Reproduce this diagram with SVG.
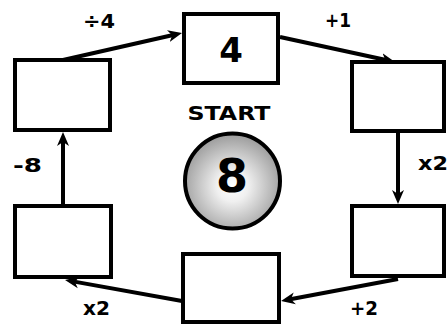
<svg xmlns="http://www.w3.org/2000/svg" width="447" height="326" viewBox="0 0 447 326">
<style>
.box{fill:#fff;stroke:#000;stroke-width:4}
.con{stroke:#000;stroke-width:4;fill:none;marker-end:url(#arr)}
.lbl{font-family:"DejaVu Sans","Liberation Sans",sans-serif;font-weight:bold;font-size:19px;fill:#000}
</style>
<defs>
<marker id="arr" markerUnits="userSpaceOnUse" markerWidth="16" markerHeight="14" viewBox="0 -7 16 14" refX="6" refY="0" orient="auto">
<path d="M0,-6 L14,0 L0,6 L4,0 z" fill="#000"/>
</marker>
<radialGradient id="ball" cx="50%" cy="55%" r="55%">
<stop offset="0" stop-color="#fff"/>
<stop offset="0.3" stop-color="#f0f0f0"/>
<stop offset="1" stop-color="#9a9a9a"/>
</radialGradient>
</defs>
<rect width="447" height="326" fill="#fff"/>
<g id="connectors">
<line class="con" x1="63" y1="60" x2="174.2" y2="34.8"/>
<line class="con" x1="280" y1="37" x2="387.2" y2="60.3"/>
<line class="con" x1="398" y1="133" x2="398" y2="196"/>
<line class="con" x1="398" y1="279" x2="288.9" y2="299.5"/>
<line class="con" x1="182" y1="301" x2="72.9" y2="281.4"/>
<line class="con" x1="63" y1="206" x2="63" y2="140"/>
</g>
<g id="node-top"><rect class="box" x="184" y="14" width="94" height="69"/><text class="lbl" x="231" y="62" text-anchor="middle" style="font-size:34px">4</text></g>
<g id="node-topleft"><rect class="box" x="15" y="60" width="95" height="70"/></g>
<g id="node-topright"><rect class="box" x="352" y="62" width="92" height="69"/></g>
<g id="node-bottomleft"><rect class="box" x="15" y="206" width="96" height="71"/></g>
<g id="node-bottomright"><rect class="box" x="352" y="206" width="92" height="70"/></g>
<g id="node-bottom"><rect class="box" x="183" y="254" width="96" height="68"/></g>
<g id="node-start">
<text class="lbl" x="229" y="120" text-anchor="middle" textLength="83" lengthAdjust="spacingAndGlyphs">START</text>
<circle cx="232.5" cy="181" r="47.5" fill="url(#ball)" stroke="#000" stroke-width="4"/>
<text class="lbl" x="232" y="192" text-anchor="middle" style="font-size:46px">8</text>
</g>
<g id="labels">
<text class="lbl" x="83" y="28" textLength="32" lengthAdjust="spacingAndGlyphs">÷4</text>
<text class="lbl" x="325" y="27" textLength="26" lengthAdjust="spacingAndGlyphs">+1</text>
<text class="lbl" x="418" y="170" textLength="30" lengthAdjust="spacingAndGlyphs">x2</text>
<text class="lbl" x="350" y="315" textLength="28" lengthAdjust="spacingAndGlyphs">+2</text>
<text class="lbl" x="83" y="315" textLength="27" lengthAdjust="spacingAndGlyphs">x2</text>
<text class="lbl" x="13" y="172" textLength="29" lengthAdjust="spacingAndGlyphs">-8</text>
</g>
</svg>
